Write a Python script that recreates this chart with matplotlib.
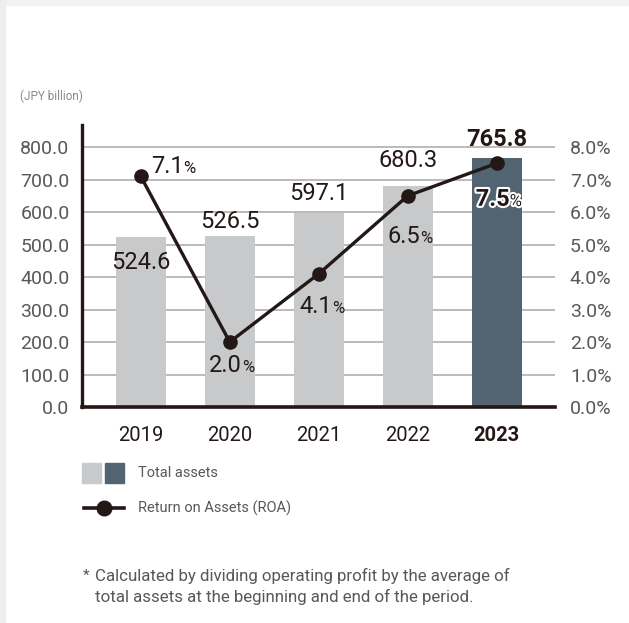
import matplotlib.pyplot as plt
from matplotlib.patches import Rectangle
from matplotlib.lines import Line2D
import matplotlib.patheffects as pe

years = ["2019", "2020", "2021", "2022", "2023"]
total_assets = [524.6, 526.5, 597.1, 680.3, 765.8]
roa = [7.1, 2.0, 4.1, 6.5, 7.5]

left_ticks = [0, 100, 200, 300, 400, 500, 600, 700, 800]
right_ticks = [0.0, 1.0, 2.0, 3.0, 4.0, 5.0, 6.0, 7.0, 8.0]

LIGHT = "#c8c9cb"
DARK = "#526372"
LINE = "#231815"
TEXT = "#231815"
GREY_TEXT = "#595757"

plt.rcParams["font.family"] = ["Roboto", "DejaVu Sans"]

fig = plt.figure(figsize=(6.29, 6.23), dpi=100)
fig.patch.set_facecolor("white")
# soft panel edge along the top and left
fig.patches.append(Rectangle((0, 0.992), 1, 0.008, transform=fig.transFigure,
                             color="#f2f2f2", zorder=0))
fig.patches.append(Rectangle((0, 0), 0.008, 1, transform=fig.transFigure,
                             color="#eeeeee", zorder=0))

ax = fig.add_axes([0.1304, 0.3467, 0.7513, 0.4527])
x = list(range(len(years)))
colors = [LIGHT] * (len(years) - 1) + [DARK]
ax.bar(x, total_assets, width=0.56, color=colors, zorder=2)

ax.set_xlim(-0.66, 4.65)
ax.set_ylim(0, 868)
for t in left_ticks[1:]:
    ax.axhline(t, color="#b5b5b6", lw=1.3, zorder=1)

ax.set_yticks(left_ticks)
ax.set_yticklabels([f"{v:.1f}" for v in left_ticks], color=GREY_TEXT,
                   fontsize=14)
ax.tick_params(axis="y", length=0, pad=9)
ax.set_xticks(x)
ax.set_xticklabels(years, color=TEXT, fontsize=14.5)
ax.get_xticklabels()[-1].set_fontweight("bold")
ax.tick_params(axis="x", length=0, pad=14)
for s in ["top", "right"]:
    ax.spines[s].set_visible(False)
ax.spines["left"].set_linewidth(2.4)
ax.spines["left"].set_color(LINE)
ax.spines["bottom"].set_linewidth(2.6)
ax.spines["bottom"].set_color(LINE)

ax2 = ax.twinx()
ax2.set_ylim(0, 8.68)
ax2.set_yticks(right_ticks)
ax2.set_yticklabels([f"{v:.1f}%" for v in right_ticks], color=GREY_TEXT,
                    fontsize=14)
ax2.tick_params(axis="y", length=0, pad=11)
for s in ax2.spines.values():
    s.set_visible(False)
ax2.plot(x, roa, color=LINE, lw=2.4, marker="o", markersize=9.5, zorder=5)

# bar value labels (offsets in pixels)
bar_offsets = [(0, -26, "center"), (0, 3, "bottom"), (0, 8, "bottom"),
               (0, 14, "bottom"), (0, 7, "bottom")]
for i, (v, (dx, dy, va)) in enumerate(zip(total_assets, bar_offsets)):
    bold = i == len(years) - 1
    ax.annotate(f"{v:.1f}", (i, v), xytext=(dx, dy), textcoords="offset pixels",
                ha="center", va=va, fontsize=17,
                fontweight="bold" if bold else "normal", color=TEXT, zorder=6)

# ROA labels with a smaller percent sign
roa_offsets = [(10, 10, "left"), (-4, -23, "center"), (-3, -33, "center"),
               (-4, -41, "center"), (-4, -36, "center")]
for i, (v, (dx, dy, ha)) in enumerate(zip(roa, roa_offsets)):
    bold = i == len(years) - 1
    effects = [pe.withStroke(linewidth=3, foreground="white")] if bold else None
    t = ax2.annotate(f"{v:.1f}", (i, v), xytext=(dx, dy), textcoords="offset pixels",
                     ha=ha, va="center", fontsize=17,
                     fontweight="bold" if bold else "normal", color=TEXT,
                     zorder=7, path_effects=effects)
    ax2.annotate("%", xy=(1, 0.08), xycoords=t, ha="left", va="bottom",
                 fontsize=12, color=TEXT, zorder=7, path_effects=effects)

fig.text(20 / 629, 1 - 96 / 623, "(JPY billion)", fontsize=8.5, color="#8a8a8a",
         va="center")

# legend
fig.patches.append(Rectangle((82 / 629, 1 - 483 / 623), 19 / 629, 20 / 623,
                             transform=fig.transFigure, color=LIGHT))
fig.patches.append(Rectangle((105 / 629, 1 - 483 / 623), 19 / 629, 20 / 623,
                             transform=fig.transFigure, color=DARK))
fig.text(138 / 629, 1 - 473 / 623, "Total assets", fontsize=10.5, color=GREY_TEXT,
         va="center")
fig.lines.append(Line2D([84 / 629, 124 / 629], [1 - 508 / 623] * 2,
                        transform=fig.transFigure, color=LINE, lw=2.6))
fig.lines.append(Line2D([104 / 629], [1 - 508 / 623], transform=fig.transFigure,
                        color=LINE, marker="o", markersize=10.5))
fig.text(138 / 629, 1 - 508 / 623, "Return on Assets (ROA)", fontsize=10.5,
         color=GREY_TEXT, va="center")

# footnote
fig.text(83 / 629, 1 - 576 / 623, "*", fontsize=11, color=GREY_TEXT, va="center")
fig.text(95 / 629, 1 - 576 / 623,
         "Calculated by dividing operating profit by the average of",
         fontsize=12.2, color=GREY_TEXT, va="center")
fig.text(95 / 629, 1 - 597 / 623,
         "total assets at the beginning and end of the period.",
         fontsize=12.2, color=GREY_TEXT, va="center")

fig.savefig("out.png", dpi=100)
